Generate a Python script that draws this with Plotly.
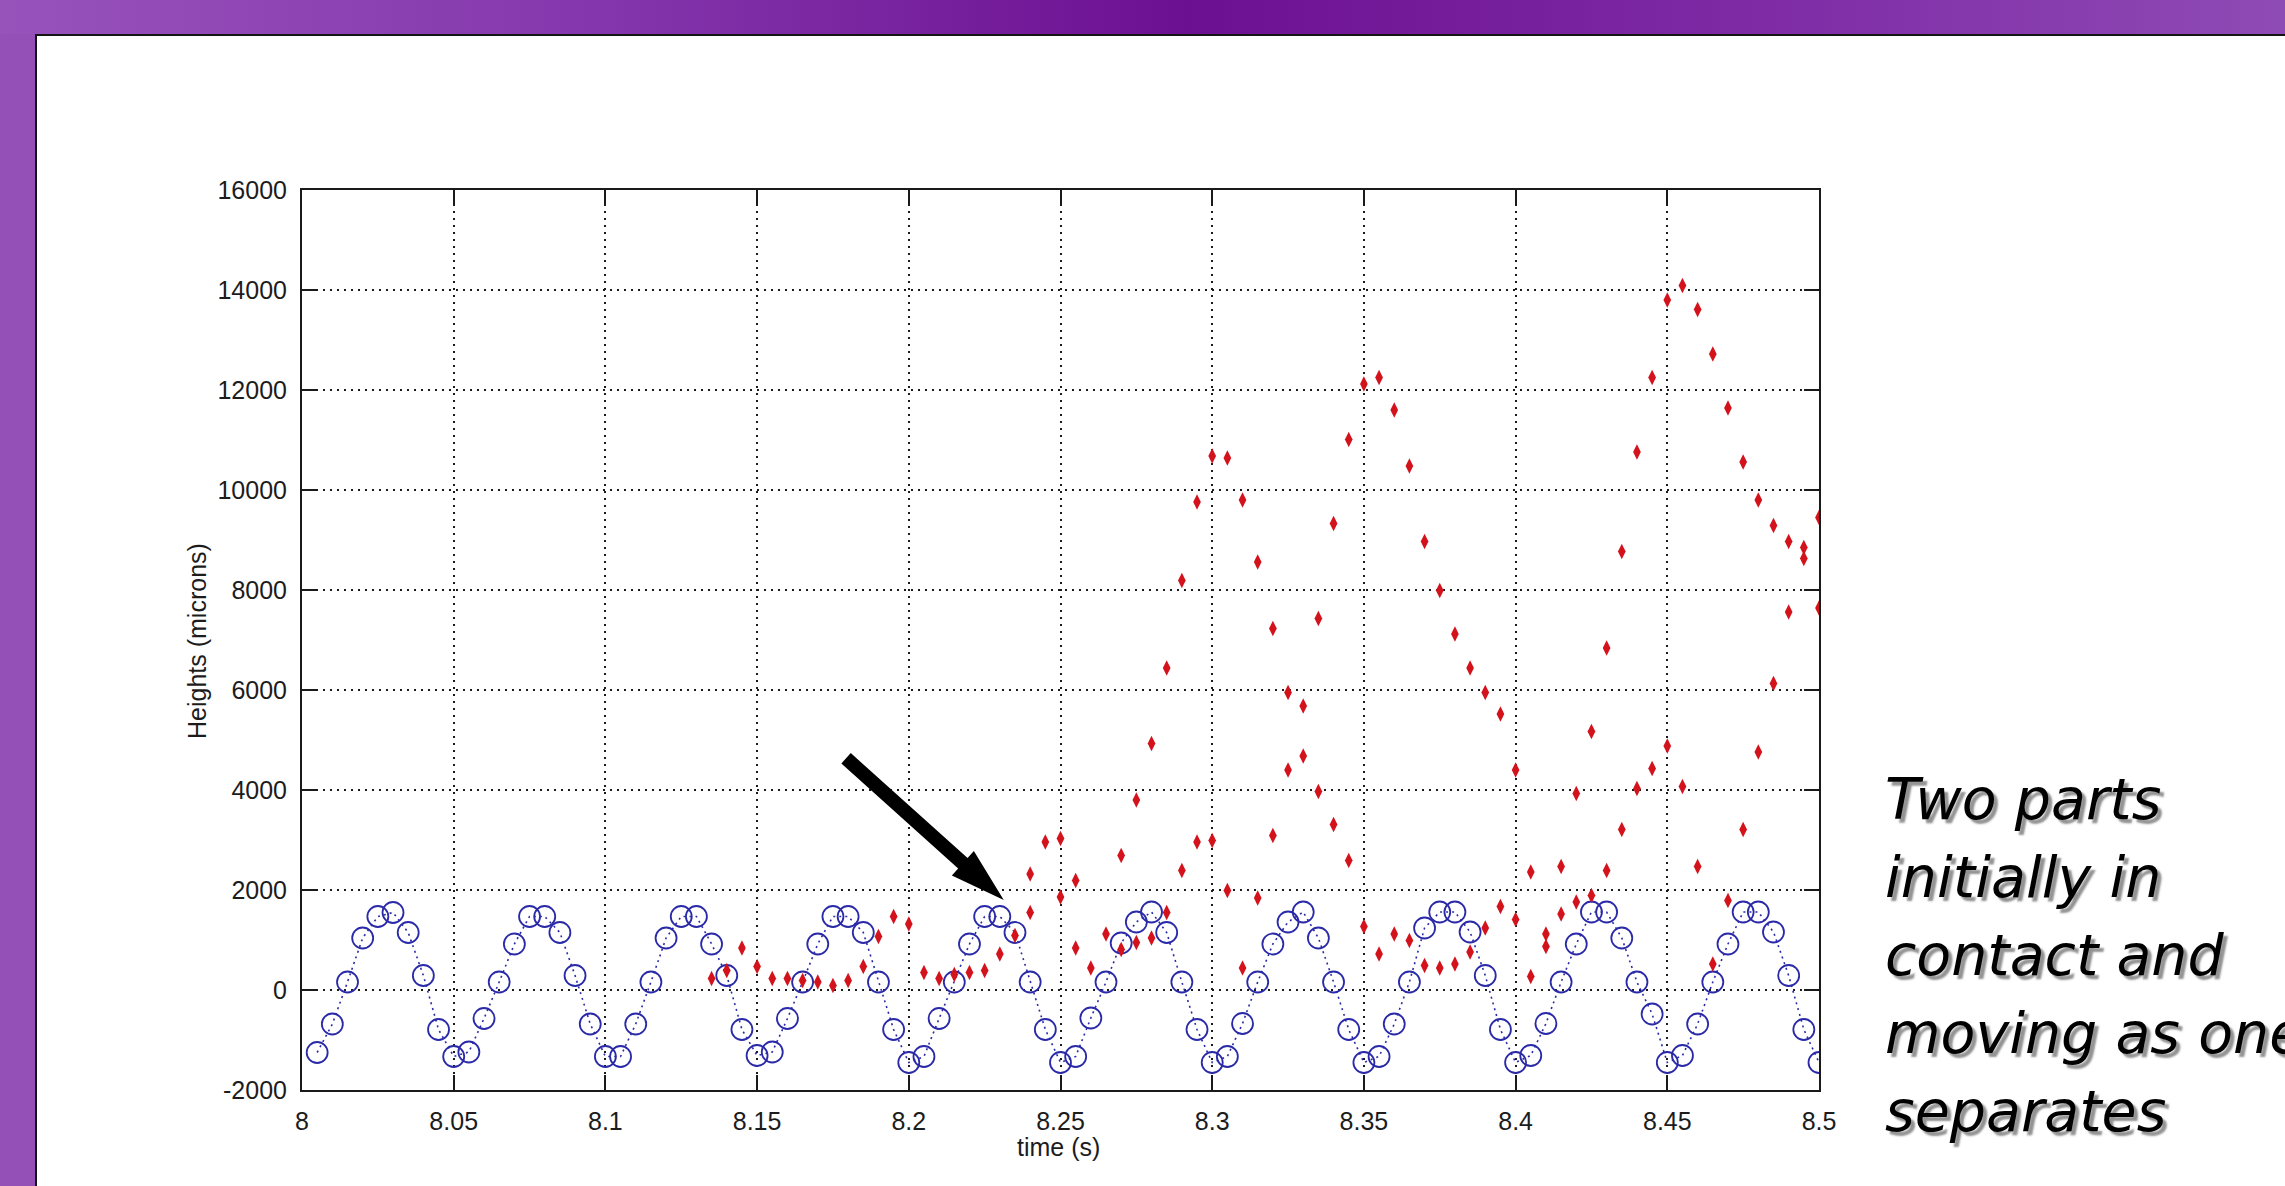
import base64
import plotly.graph_objects as go

# ---------------------------------------------------------------- data
# sample times (s)
time_s = [
    8.005, 8.010, 8.015, 8.020, 8.025, 8.030, 8.035, 8.040, 8.045, 8.050,
    8.055, 8.060, 8.065, 8.070, 8.075, 8.080, 8.085, 8.090, 8.095, 8.100,
    8.105, 8.110, 8.115, 8.120, 8.125, 8.130, 8.135, 8.140, 8.145, 8.150,
    8.155, 8.160, 8.165, 8.170, 8.175, 8.180, 8.185, 8.190, 8.195, 8.200,
    8.205, 8.210, 8.215, 8.220, 8.225, 8.230, 8.235, 8.240, 8.245, 8.250,
    8.255, 8.260, 8.265, 8.270, 8.275, 8.280, 8.285, 8.290, 8.295, 8.300,
    8.305, 8.310, 8.315, 8.320, 8.325, 8.330, 8.335, 8.340, 8.345, 8.350,
    8.355, 8.360, 8.365, 8.370, 8.375, 8.380, 8.385, 8.390, 8.395, 8.400,
    8.405, 8.410, 8.415, 8.420, 8.425, 8.430, 8.435, 8.440, 8.445, 8.450,
    8.455, 8.460, 8.465, 8.470, 8.475, 8.480, 8.485, 8.490, 8.495, 8.500,
]

# height of the vibrating base (microns)
base_height = [
    -1250, -680, 160, 1040, 1470, 1550, 1150, 290, -790, -1330,
    -1240, -570, 160, 920, 1470, 1470, 1150, 290, -680, -1330,
    -1330, -680, 160, 1040, 1470, 1470, 920, 290, -790, -1310,
    -1240, -570, 160, 920, 1470, 1470, 1150, 160, -790, -1450,
    -1330, -570, 160, 920, 1470, 1470, 1150, 160, -790, -1450,
    -1330, -560, 160, 940, 1360, 1560, 1150, 160, -790, -1450,
    -1330, -670, 160, 920, 1360, 1560, 1040, 160, -790, -1450,
    -1330, -680, 160, 1240, 1560, 1560, 1160, 290, -790, -1450,
    -1310, -670, 160, 920, 1560, 1560, 1040, 160, -480, -1450,
    -1310, -680, 160, 920, 1560, 1560, 1160, 290, -790, -1450,
]

# heights of the loose parts (microns)
part_time = [
    8.135, 8.140, 8.145, 8.150, 8.155, 8.160, 8.165, 8.170, 8.175, 8.180,
    8.185, 8.190, 8.195, 8.200, 8.205, 8.210, 8.215, 8.220, 8.225, 8.230,
    8.235, 8.240, 8.240, 8.245, 8.250, 8.250, 8.255, 8.255, 8.260, 8.265,
    8.270, 8.270, 8.275, 8.275, 8.280, 8.280, 8.285, 8.285, 8.290, 8.290,
    8.295, 8.295, 8.300, 8.300, 8.305, 8.305, 8.310, 8.310, 8.315, 8.315,
    8.320, 8.320, 8.325, 8.325, 8.330, 8.330, 8.335, 8.335, 8.340, 8.340,
    8.345, 8.345, 8.350, 8.350, 8.355, 8.355, 8.360, 8.360, 8.365, 8.365,
    8.370, 8.370, 8.375, 8.375, 8.380, 8.380, 8.385, 8.385, 8.390, 8.390,
    8.395, 8.395, 8.400, 8.400, 8.405, 8.405, 8.410, 8.410, 8.415, 8.415,
    8.420, 8.420, 8.425, 8.425, 8.430, 8.430, 8.435, 8.435, 8.440, 8.440,
    8.445, 8.445, 8.450, 8.450, 8.455, 8.455, 8.460, 8.460, 8.465, 8.465,
    8.470, 8.470, 8.475, 8.475, 8.480, 8.480, 8.485, 8.485, 8.490, 8.490,
    8.495, 8.495, 8.500, 8.500,
]
part_height = [
    230, 390, 840, 470, 230, 230, 190, 160, 90, 190,
    470, 1070, 1470, 1320, 350, 230, 310, 350, 390, 720,
    1090, 1550, 2320, 2960, 3030, 1860, 2190, 840, 440, 1120,
    2690, 810, 950, 3800, 1040, 4930, 1550, 6440, 2390, 8190,
    2960, 9760, 2990, 10680, 1990, 10640, 440, 9800, 1840, 8560,
    3090, 7230, 5950, 4400, 5680, 4680, 3970, 7430, 3310, 9330,
    2590, 11010, 1270, 12120, 720, 12250, 1120, 11600, 990, 10480,
    490, 8970, 440, 7990, 520, 7120, 760, 6440, 1240, 5950,
    1670, 5520, 1410, 4400, 2360, 270, 1120, 870, 2470, 1520,
    1760, 3930, 1890, 5170, 2390, 6840, 3210, 8770, 4030, 10760,
    4430, 12250, 4880, 13800, 4070, 14090, 2470, 13610, 520, 12720,
    1790, 11640, 3210, 10560, 4760, 9800, 6130, 9290, 7560, 8970,
    8850, 8630, 9450, 7640,
]

x_tick_values = [8.0, 8.05, 8.1, 8.15, 8.2, 8.25, 8.3, 8.35, 8.4, 8.45, 8.5]
x_tick_labels = ["8", "8.05", "8.1", "8.15", "8.2", "8.25", "8.3", "8.35", "8.4", "8.45", "8.5"]
y_tick_values = [-2000, 0, 2000, 4000, 6000, 8000, 10000, 12000, 14000, 16000]
y_tick_labels = ["-2000", "0", "2000", "4000", "6000", "8000", "10000", "12000", "14000", "16000"]

x_label = "time (s)"
y_label = "Heights (microns)"
note_lines = ["Two parts", "initially in", "contact and", "moving as one", "separates"]

# ---------------------------------------------------------------- layout geometry (px)
W, H = 2285, 1186
M_LEFT, M_RIGHT, M_TOP, M_BOTTOM = 302, 466, 190, 96
PW = W - M_LEFT - M_RIGHT
PH = H - M_TOP - M_BOTTOM
TOP_BAND, LEFT_BAND = 34, 35
NOTE_LEFT, NOTE_TOP, NOTE_STEP = 1884, 765, 78


def px_to_paper_x(px):
    return (px - M_LEFT) / PW


def px_to_paper_y(py):
    return 1 - (py - M_TOP) / PH


# slide frame: purple gradient header, purple left band, thin dark rules
frame_svg = f"""<svg xmlns="http://www.w3.org/2000/svg" width="{W}" height="{H}" viewBox="0 0 {W} {H}">
<defs><linearGradient id="hdr" x1="0" y1="0" x2="1" y2="0">
<stop offset="0" stop-color="#9853bb"/>
<stop offset="0.25" stop-color="#8538ad"/>
<stop offset="0.52" stop-color="#6c1092"/>
<stop offset="0.78" stop-color="#7f2ca6"/>
<stop offset="1" stop-color="#8f4bb5"/>
</linearGradient></defs>
<rect x="0" y="0" width="{LEFT_BAND}" height="{H}" fill="#9550b8"/>
<rect x="0" y="0" width="{W}" height="{TOP_BAND}" fill="url(#hdr)"/>
<rect x="{LEFT_BAND}" y="{TOP_BAND}" width="{W - LEFT_BAND}" height="2" fill="#151515"/>
<rect x="{LEFT_BAND}" y="{TOP_BAND}" width="2" height="{H - TOP_BAND}" fill="#151515"/>
</svg>"""
frame_uri = "data:image/svg+xml;base64," + base64.b64encode(frame_svg.encode()).decode()

# callout arrow, drawn in pixels relative to its tip
ARROW_TIP = (8.2313, 1800)
ARROW_DIR = (-158.0, 142.0)      # from tip towards tail (x right, y up)
ARROW_LEN, HEAD_LEN, HEAD_HALF, SHAFT_HALF = 212.0, 55.0, 16.5, 7.0
_n = (ARROW_DIR[0] ** 2 + ARROW_DIR[1] ** 2) ** 0.5
ux, uy = ARROW_DIR[0] / _n, ARROW_DIR[1] / _n
vx, vy = uy, -ux


def _pt(a, b):
    return (a * ux + b * vx, a * uy + b * vy)


arrow_pts = [
    _pt(0, 0),
    _pt(HEAD_LEN, HEAD_HALF),
    _pt(HEAD_LEN, SHAFT_HALF),
    _pt(ARROW_LEN, SHAFT_HALF),
    _pt(ARROW_LEN, -SHAFT_HALF),
    _pt(HEAD_LEN, -SHAFT_HALF),
    _pt(HEAD_LEN, -HEAD_HALF),
]
arrow_path = "M" + " L".join(f"{x:.1f},{y:.1f}" for x, y in arrow_pts) + " Z"

# ---------------------------------------------------------------- figure
BLUE = "#2a2aa8"
RED = "#d3121c"
AXIS_FONT = dict(family="Liberation Sans, Arial, sans-serif", size=25, color="#1c1c1c")
NOTE_FONT = dict(family="DejaVu Sans, Verdana, sans-serif", size=57, style="italic",
                 color="#000000", shadow="4px 4px 2px rgba(110,110,110,0.75)")

fig = go.Figure()
fig.add_trace(go.Scatter(
    x=time_s, y=base_height, mode="lines+markers",
    line=dict(color=BLUE, width=1.6, dash="2px,4px"),
    marker=dict(symbol="circle-open", size=21, color=BLUE, line=dict(width=1.8, color=BLUE)),
    showlegend=False, hoverinfo="skip",
))
fig.add_trace(go.Scatter(
    x=part_time, y=part_height, mode="markers",
    marker=dict(symbol="diamond-tall", size=11, color=RED, line=dict(width=0)),
    showlegend=False, hoverinfo="skip",
))

axis_common = dict(
    showline=True, linecolor="#1a1a1a", linewidth=2, mirror="ticks",
    ticks="inside", ticklen=15, tickwidth=2, tickcolor="#1a1a1a",
    showgrid=True, gridcolor="#1a1a1a", gridwidth=1.5, griddash="2px,5px",
    zeroline=False, tickfont=AXIS_FONT,
)

fig.update_xaxes(range=[8.0, 8.5], tickmode="array", tickvals=x_tick_values,
                 ticktext=x_tick_labels, ticklabelstandoff=8, **axis_common)
fig.update_yaxes(range=[-2000, 16000], tickmode="array", tickvals=y_tick_values,
                 ticktext=y_tick_labels, ticklabelstandoff=8, **axis_common)

annotations = [
    dict(text=y_label, xref="paper", yref="paper", x=px_to_paper_x(197), y=px_to_paper_y(641),
         xanchor="center", yanchor="middle", textangle=-90, showarrow=False, font=AXIS_FONT),
    dict(text=x_label, xref="paper", yref="paper", x=px_to_paper_x(1058), y=px_to_paper_y(1147),
         xanchor="center", yanchor="middle", showarrow=False, font=AXIS_FONT),
]
# side note, one annotation per line for an even line pitch
for i, line in enumerate(note_lines):
    annotations.append(dict(
        text=line, xref="paper", yref="paper",
        x=px_to_paper_x(NOTE_LEFT), y=px_to_paper_y(NOTE_TOP + i * NOTE_STEP),
        xanchor="left", yanchor="top", align="left", showarrow=False,
        borderpad=0, font=NOTE_FONT,
    ))

fig.update_layout(
    width=W, height=H,
    margin=dict(l=M_LEFT, r=M_RIGHT, t=M_TOP, b=M_BOTTOM, pad=0),
    paper_bgcolor="white", plot_bgcolor="white",
    annotations=annotations,
    images=[dict(source=frame_uri, xref="paper", yref="paper",
                 x=px_to_paper_x(0), y=px_to_paper_y(0),
                 sizex=W / PW, sizey=H / PH, xanchor="left", yanchor="top",
                 sizing="stretch", layer="below")],
    shapes=[dict(type="path", xref="x", yref="y", xsizemode="pixel", ysizemode="pixel",
                 xanchor=ARROW_TIP[0], yanchor=ARROW_TIP[1], path=arrow_path,
                 fillcolor="black", line=dict(width=0), layer="above")],
)

fig.write_html("out.html")
